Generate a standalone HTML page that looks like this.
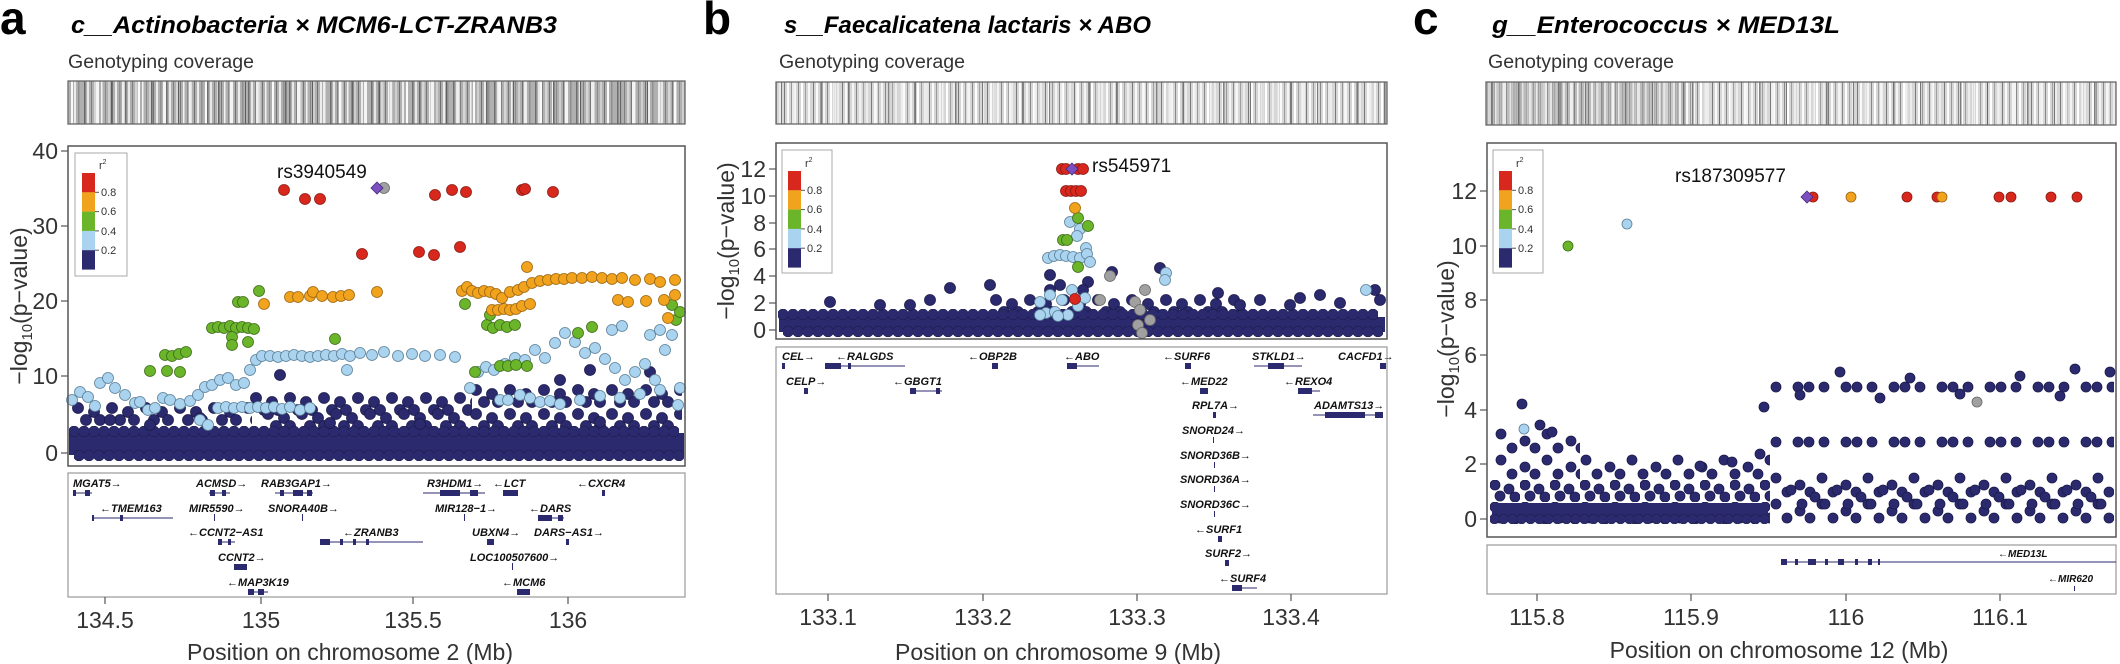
<!DOCTYPE html>
<html><head><meta charset="utf-8"><style>html,body{margin:0;padding:0;background:#fff}svg{display:block}</style></head>
<body>
<svg xmlns="http://www.w3.org/2000/svg" width="2120" height="664" viewBox="0 0 2120 664" font-family="Liberation Sans, Arial, sans-serif">
<defs>
<pattern id="cv1" patternUnits="userSpaceOnUse" x="0" y="0" width="41" height="50">
<rect width="41" height="50" fill="#b0b0b0"/>
<rect x="2" width="1.5" height="50" fill="#6e6e6e"/><rect x="5" width="2" height="50" fill="#e8e8e8"/><rect x="9" width="1" height="50" fill="#808080"/><rect x="12" width="2.5" height="50" fill="#d6d6d6"/><rect x="16" width="1" height="50" fill="#777"/><rect x="19" width="1.5" height="50" fill="#f2f2f2"/><rect x="23" width="1" height="50" fill="#8a8a8a"/><rect x="26" width="2" height="50" fill="#cfcfcf"/><rect x="30" width="1" height="50" fill="#707070"/><rect x="33" width="2" height="50" fill="#ececec"/><rect x="37" width="1.5" height="50" fill="#909090"/>
</pattern>
<pattern id="cv2" patternUnits="userSpaceOnUse" x="0" y="0" width="67" height="50">
<rect x="4" width="2" height="50" fill="#fafafa"/><rect x="17" width="1.5" height="50" fill="#666"/><rect x="29" width="3" height="50" fill="#f4f4f4"/><rect x="44" width="1" height="50" fill="#5e5e5e"/><rect x="55" width="2.5" height="50" fill="#eeeeee"/>
</pattern>
<pattern id="cvL" patternUnits="userSpaceOnUse" x="0" y="0" width="29" height="50">
<rect width="29" height="50" fill="#d6d6d6"/>
<rect x="1" width="1" height="50" fill="#7a7a7a"/><rect x="4" width="2" height="50" fill="#fafafa"/><rect x="8" width="1" height="50" fill="#999"/><rect x="11" width="2" height="50" fill="#f4f4f4"/><rect x="15" width="1" height="50" fill="#888"/><rect x="18" width="2" height="50" fill="#fff"/><rect x="22" width="1" height="50" fill="#a0a0a0"/><rect x="25" width="2" height="50" fill="#ececec"/>
</pattern>
<pattern id="row" patternUnits="userSpaceOnUse" width="10" height="11">
<circle cx="5" cy="5.5" r="5.4" fill="#2b2a6e" stroke="#1b1a4a" stroke-width="0.6"/>
</pattern>
<pattern id="row5" patternUnits="userSpaceOnUse" width="9" height="10">
<circle cx="4.5" cy="5" r="4.9" fill="#2b2a6e" stroke="#1b1a4a" stroke-width="0.6"/>
</pattern>
<pattern id="ps" patternUnits="userSpaceOnUse" width="34" height="24">
<circle cx="6" cy="6" r="5.5" fill="#2b2a6e" stroke="#1b1a4a" stroke-width="0.8"/>
<circle cx="22" cy="10" r="5.5" fill="#2b2a6e" stroke="#1b1a4a" stroke-width="0.8"/>
<circle cx="14" cy="18" r="5.5" fill="#2b2a6e" stroke="#1b1a4a" stroke-width="0.8"/>
<circle cx="28" cy="18" r="5.5" fill="#2b2a6e" stroke="#1b1a4a" stroke-width="0.8"/>
</pattern>
<pattern id="pc" patternUnits="userSpaceOnUse" width="30" height="22">
<circle cx="5" cy="5" r="5" fill="#2b2a6e" stroke="#1b1a4a" stroke-width="0.8"/>
<circle cx="19" cy="9" r="5" fill="#2b2a6e" stroke="#1b1a4a" stroke-width="0.8"/>
<circle cx="10" cy="16" r="5" fill="#2b2a6e" stroke="#1b1a4a" stroke-width="0.8"/>
<circle cx="25" cy="17" r="5" fill="#2b2a6e" stroke="#1b1a4a" stroke-width="0.8"/>
</pattern>
<pattern id="pcs" patternUnits="userSpaceOnUse" width="46" height="26">
<circle cx="6" cy="6" r="5" fill="#2b2a6e" stroke="#1b1a4a" stroke-width="0.8"/>
<circle cx="30" cy="13" r="5" fill="#2b2a6e" stroke="#1b1a4a" stroke-width="0.8"/>
<circle cx="17" cy="20" r="5" fill="#2b2a6e" stroke="#1b1a4a" stroke-width="0.8"/>
<circle cx="40" cy="20" r="5" fill="#2b2a6e" stroke="#1b1a4a" stroke-width="0.8"/>
</pattern>
<pattern id="pr" patternUnits="userSpaceOnUse" width="48" height="12">
<circle cx="6" cy="6" r="5" fill="#2b2a6e" stroke="#1b1a4a" stroke-width="0.8"/>
<circle cx="28" cy="6" r="5" fill="#2b2a6e" stroke="#1b1a4a" stroke-width="0.8"/>
<circle cx="39" cy="6" r="5" fill="#2b2a6e" stroke="#1b1a4a" stroke-width="0.8"/>
</pattern>
</defs>
<rect width="2120" height="664" fill="#fff"/>
<text x="0" y="34" font-size="46" font-weight="bold">a</text>
<text x="703" y="34" font-size="46" font-weight="bold">b</text>
<text x="1413" y="34" font-size="46" font-weight="bold">c</text>
<text x="71" y="33" font-size="24" font-weight="bold" font-style="italic" textLength="486" lengthAdjust="spacingAndGlyphs">c__Actinobacteria × MCM6-LCT-ZRANB3</text>
<text x="784" y="33" font-size="24" font-weight="bold" font-style="italic" textLength="367" lengthAdjust="spacingAndGlyphs">s__Faecalicatena lactaris × ABO</text>
<text x="1492" y="33" font-size="24" font-weight="bold" font-style="italic" textLength="348" lengthAdjust="spacingAndGlyphs">g__Enterococcus × MED13L</text>
<g font-size="19" fill="#333">
<text x="68" y="68" textLength="186" lengthAdjust="spacingAndGlyphs">Genotyping coverage</text>
<text x="779" y="68" textLength="186" lengthAdjust="spacingAndGlyphs">Genotyping coverage</text>
<text x="1488" y="68" textLength="186" lengthAdjust="spacingAndGlyphs">Genotyping coverage</text>
</g>
<!-- coverage -->
<rect x="68" y="81" width="617" height="43" fill="url(#cv1)"/>
<rect x="68" y="81" width="617" height="43" fill="url(#cv2)"/>
<rect x="776" y="82" width="611" height="42" fill="url(#cvL)"/>
<rect x="776" y="82" width="611" height="42" fill="url(#cv2)" opacity="0.8"/>
<rect x="1486" y="82" width="630" height="43" fill="url(#cvL)"/>
<rect x="1486" y="82" width="200" height="43" fill="url(#cv1)" opacity="0.7"/>
<rect x="1486" y="82" width="630" height="43" fill="url(#cv2)" opacity="0.8"/>
<g fill="none" stroke="#666" stroke-width="1.3">
<rect x="68" y="81" width="617" height="43"/><rect x="776" y="82" width="611" height="42"/><rect x="1486" y="82" width="630" height="43"/>
</g>

<!-- PANEL A dots -->
<rect transform="translate(72,402)" width="180" height="24" fill="url(#ps)"/>
<rect transform="translate(250,392)" width="222" height="24" fill="url(#ps)"/>
<rect transform="translate(262,408)" width="204" height="24" fill="url(#ps)"/>
<rect transform="translate(470,384)" width="212" height="48" fill="url(#ps)"/>
<rect x="69" y="433" width="615" height="22" fill="#2b2a6e"/>
<rect transform="translate(69,426)" width="610" height="11" fill="url(#row)"/>
<rect transform="translate(74,450)" width="610" height="11" fill="url(#row)"/>
<g fill="#2b2a6e" stroke="#1b1a4a" stroke-width="0.8">
<circle cx="110" cy="420" r="5.5"/><circle cx="150" cy="425" r="5.5"/><circle cx="200" cy="418" r="5.5"/><circle cx="330" cy="423" r="5.5"/><circle cx="420" cy="424" r="5.5"/><circle cx="600" cy="422" r="5.5"/><circle cx="280" cy="375" r="5.5"/><circle cx="560" cy="380" r="5.5"/><circle cx="590" cy="370" r="5.5"/><circle cx="650" cy="372" r="5.5"/>
</g>
<g stroke="#5a7f97" stroke-width="0.8" fill="#a9d3ee">
<circle cx="72" cy="400" r="5.5"/><circle cx="80" cy="392" r="5.5"/><circle cx="88" cy="397" r="5.5"/><circle cx="95" cy="406" r="5.5"/><circle cx="100" cy="383" r="5.5"/><circle cx="108" cy="378" r="5.5"/><circle cx="115" cy="388" r="5.5"/><circle cx="125" cy="395" r="5.5"/><circle cx="135" cy="403" r="5.5"/><circle cx="140" cy="402" r="5.5"/><circle cx="148" cy="410" r="5.5"/><circle cx="155" cy="408" r="5.5"/><circle cx="163" cy="398" r="5.5"/><circle cx="170" cy="400" r="5.5"/><circle cx="180" cy="404" r="5.5"/><circle cx="190" cy="401" r="5.5"/><circle cx="198" cy="395" r="5.5"/><circle cx="205" cy="387" r="5.5"/><circle cx="212" cy="385" r="5.5"/><circle cx="220" cy="380" r="5.5"/><circle cx="228" cy="378" r="5.5"/><circle cx="236" cy="385" r="5.5"/><circle cx="244" cy="383" r="5.5"/><circle cx="250" cy="370" r="5.5"/><circle cx="256" cy="360" r="5.5"/>
<circle cx="262" cy="356" r="5.5"/><circle cx="270" cy="356" r="5.5"/><circle cx="278" cy="357" r="5.5"/><circle cx="286" cy="356" r="5.5"/><circle cx="294" cy="355" r="5.5"/><circle cx="302" cy="356" r="5.5"/><circle cx="310" cy="357" r="5.5"/><circle cx="318" cy="356" r="5.5"/><circle cx="326" cy="355" r="5.5"/><circle cx="334" cy="356" r="5.5"/><circle cx="342" cy="354" r="5.5"/><circle cx="350" cy="356" r="5.5"/><circle cx="360" cy="353" r="5.5"/><circle cx="372" cy="355" r="5.5"/><circle cx="384" cy="352" r="5.5"/><circle cx="398" cy="356" r="5.5"/><circle cx="412" cy="354" r="5.5"/><circle cx="425" cy="356" r="5.5"/><circle cx="440" cy="355" r="5.5"/><circle cx="455" cy="357" r="5.5"/><circle cx="347" cy="370" r="5.5"/>
<circle cx="218" cy="408" r="5.5"/><circle cx="226" cy="407" r="5.5"/><circle cx="234" cy="408" r="5.5"/><circle cx="242" cy="407" r="5.5"/><circle cx="250" cy="408" r="5.5"/><circle cx="258" cy="407" r="5.5"/><circle cx="266" cy="408" r="5.5"/><circle cx="274" cy="407" r="5.5"/><circle cx="282" cy="409" r="5.5"/><circle cx="290" cy="407" r="5.5"/><circle cx="300" cy="410" r="5.5"/><circle cx="310" cy="408" r="5.5"/><circle cx="200" cy="420" r="5.5"/><circle cx="208" cy="425" r="5.5"/>
<circle cx="470" cy="388" r="5.5"/><circle cx="478" cy="372" r="5.5"/><circle cx="486" cy="367" r="5.5"/><circle cx="494" cy="370" r="5.5"/><circle cx="505" cy="364" r="5.5"/><circle cx="515" cy="358" r="5.5"/><circle cx="525" cy="360" r="5.5"/><circle cx="535" cy="350" r="5.5"/><circle cx="545" cy="358" r="5.5"/><circle cx="555" cy="343" r="5.5"/><circle cx="565" cy="333" r="5.5"/><circle cx="575" cy="342" r="5.5"/><circle cx="585" cy="353" r="5.5"/><circle cx="595" cy="348" r="5.5"/><circle cx="605" cy="359" r="5.5"/><circle cx="615" cy="368" r="5.5"/><circle cx="625" cy="380" r="5.5"/><circle cx="635" cy="372" r="5.5"/><circle cx="645" cy="364" r="5.5"/><circle cx="655" cy="380" r="5.5"/><circle cx="665" cy="350" r="5.5"/><circle cx="672" cy="335" r="5.5"/><circle cx="680" cy="388" r="5.5"/><circle cx="500" cy="400" r="5.5"/><circle cx="508" cy="400" r="5.5"/><circle cx="520" cy="395" r="5.5"/><circle cx="530" cy="398" r="5.5"/><circle cx="540" cy="402" r="5.5"/><circle cx="550" cy="401" r="5.5"/><circle cx="560" cy="404" r="5.5"/><circle cx="580" cy="400" r="5.5"/><circle cx="600" cy="396" r="5.5"/><circle cx="620" cy="398" r="5.5"/><circle cx="640" cy="394" r="5.5"/><circle cx="660" cy="390" r="5.5"/><circle cx="678" cy="405" r="5.5"/><circle cx="612" cy="330" r="5.5"/><circle cx="622" cy="326" r="5.5"/><circle cx="650" cy="335" r="5.5"/><circle cx="660" cy="330" r="5.5"/>
</g>
<g stroke="#3c6b17" stroke-width="0.8" fill="#6bb52b">
<circle cx="150" cy="371" r="5.5"/><circle cx="165" cy="355" r="5.5"/><circle cx="172" cy="356" r="5.5"/><circle cx="179" cy="354" r="5.5"/><circle cx="186" cy="352" r="5.5"/><circle cx="167" cy="371" r="5.5"/><circle cx="180" cy="372" r="5.5"/>
<circle cx="212" cy="328" r="5.5"/><circle cx="218" cy="327" r="5.5"/><circle cx="224" cy="328" r="5.5"/><circle cx="230" cy="326" r="5.5"/><circle cx="236" cy="328" r="5.5"/><circle cx="242" cy="327" r="5.5"/><circle cx="248" cy="328" r="5.5"/><circle cx="254" cy="329" r="5.5"/><circle cx="232" cy="337" r="5.5"/><circle cx="232" cy="345" r="5.5"/><circle cx="248" cy="342" r="5.5"/>
<circle cx="238" cy="302" r="5.5"/><circle cx="243" cy="302" r="5.5"/><circle cx="259" cy="291" r="5.5"/><circle cx="335" cy="339" r="5.5"/><circle cx="475" cy="372" r="5.5"/>
<circle cx="487" cy="325" r="5.5"/><circle cx="493" cy="328" r="5.5"/><circle cx="500" cy="325" r="5.5"/><circle cx="507" cy="327" r="5.5"/><circle cx="515" cy="325" r="5.5"/><circle cx="490" cy="315" r="5.5"/><circle cx="500" cy="366" r="5.5"/><circle cx="508" cy="366" r="5.5"/><circle cx="516" cy="365" r="5.5"/><circle cx="527" cy="366" r="5.5"/><circle cx="465" cy="304" r="5.5"/>
<circle cx="578" cy="333" r="5.5"/><circle cx="592" cy="327" r="5.5"/><circle cx="672" cy="305" r="5.5"/><circle cx="676" cy="320" r="5.5"/><circle cx="680" cy="312" r="5.5"/>
</g>
<g stroke="#9a6510" stroke-width="0.8" fill="#f2a31d">
<circle cx="290" cy="297" r="5.5"/><circle cx="298" cy="297" r="5.5"/><circle cx="310" cy="296" r="5.5"/><circle cx="313" cy="292" r="5.5"/><circle cx="322" cy="296" r="5.5"/><circle cx="333" cy="297" r="5.5"/><circle cx="341" cy="296" r="5.5"/><circle cx="349" cy="295" r="5.5"/><circle cx="377" cy="292" r="5.5"/><circle cx="264" cy="304" r="5.5"/>
<circle cx="462" cy="291" r="5.5"/><circle cx="467" cy="287" r="5.5"/><circle cx="472" cy="291" r="5.5"/><circle cx="478" cy="293" r="5.5"/><circle cx="484" cy="291" r="5.5"/><circle cx="490" cy="292" r="5.5"/><circle cx="496" cy="294" r="5.5"/><circle cx="502" cy="298" r="5.5"/>
<circle cx="492" cy="310" r="5.5"/><circle cx="498" cy="310" r="5.5"/><circle cx="504" cy="309" r="5.5"/><circle cx="510" cy="310" r="5.5"/><circle cx="516" cy="309" r="5.5"/><circle cx="522" cy="306" r="5.5"/><circle cx="530" cy="304" r="5.5"/>
<circle cx="510" cy="292" r="5.5"/><circle cx="518" cy="290" r="5.5"/><circle cx="524" cy="287" r="5.5"/><circle cx="532" cy="283" r="5.5"/><circle cx="540" cy="281" r="5.5"/><circle cx="548" cy="280" r="5.5"/><circle cx="556" cy="279" r="5.5"/><circle cx="564" cy="279" r="5.5"/><circle cx="572" cy="278" r="5.5"/><circle cx="582" cy="278" r="5.5"/><circle cx="592" cy="277" r="5.5"/><circle cx="602" cy="278" r="5.5"/><circle cx="612" cy="279" r="5.5"/><circle cx="622" cy="278" r="5.5"/><circle cx="635" cy="280" r="5.5"/><circle cx="650" cy="279" r="5.5"/><circle cx="660" cy="282" r="5.5"/><circle cx="675" cy="280" r="5.5"/>
<circle cx="618" cy="300" r="5.5"/><circle cx="628" cy="302" r="5.5"/><circle cx="646" cy="301" r="5.5"/><circle cx="664" cy="300" r="5.5"/><circle cx="675" cy="295" r="5.5"/><circle cx="527" cy="267" r="5.5"/><circle cx="668" cy="318" r="5.5"/>
</g>
<g stroke="#8a1a12" stroke-width="0.8" fill="#d8281e">
<circle cx="284" cy="190" r="5.5"/><circle cx="305" cy="199" r="5.5"/><circle cx="320" cy="199" r="5.5"/><circle cx="362" cy="254" r="5.5"/><circle cx="419" cy="252" r="5.5"/><circle cx="434" cy="255" r="5.5"/><circle cx="435" cy="195" r="5.5"/><circle cx="452" cy="190" r="5.5"/><circle cx="466" cy="192" r="5.5"/><circle cx="460" cy="247" r="5.5"/><circle cx="522" cy="190" r="5.5"/><circle cx="525" cy="189" r="5.5"/><circle cx="553" cy="192" r="5.5"/>
</g>
<circle cx="384" cy="188" r="5.5" fill="#a0a0a0" stroke="#666" stroke-width="0.8"/>
<path d="M377 182 L383 188 L377 194 L371 188 Z" fill="#7b4fc0" stroke="#4a2b80" stroke-width="0.8"/>

<!-- PANEL B dots -->
<rect transform="translate(990,294)" width="255" height="24" fill="url(#ps)"/>
<rect x="779" y="317" width="606" height="15" fill="#2b2a6e"/>
<rect transform="translate(778,309)" width="600" height="11" fill="url(#row)"/>
<rect transform="translate(783,326)" width="600" height="11" fill="url(#row)"/>
<g fill="#2b2a6e" stroke="#1b1a4a" stroke-width="0.8">
<circle cx="830" cy="302" r="5.5"/><circle cx="950" cy="288" r="5.5"/><circle cx="990" cy="285" r="5.5"/><circle cx="1050" cy="275" r="5.5"/><circle cx="1088" cy="282" r="5.5"/><circle cx="1060" cy="285" r="5.5"/><circle cx="1083" cy="290" r="5.5"/><circle cx="1050" cy="290" r="5.5"/><circle cx="1112" cy="272" r="5.5"/><circle cx="1160" cy="268" r="5.5"/><circle cx="1218" cy="293" r="5.5"/><circle cx="1260" cy="300" r="5.5"/><circle cx="1300" cy="298" r="5.5"/><circle cx="1320" cy="295" r="5.5"/><circle cx="1380" cy="300" r="5.5"/><circle cx="1375" cy="290" r="5.5"/><circle cx="1240" cy="305" r="5.5"/><circle cx="930" cy="300" r="5.5"/><circle cx="910" cy="305" r="5.5"/><circle cx="880" cy="305" r="5.5"/><circle cx="1340" cy="303" r="5.5"/><circle cx="1290" cy="305" r="5.5"/>
</g>
<g stroke="#666" stroke-width="0.8" fill="#a0a0a0">
<circle cx="1110" cy="276" r="5.5"/><circle cx="1135" cy="302" r="5.5"/><circle cx="1140" cy="310" r="5.5"/><circle cx="1145" cy="290" r="5.5"/><circle cx="1150" cy="320" r="5.5"/><circle cx="1138" cy="325" r="5.5"/><circle cx="1142" cy="333" r="5.5"/><circle cx="1100" cy="300" r="5.5"/>
</g>
<g stroke="#5a7f97" stroke-width="0.8" fill="#a9d3ee">
<circle cx="1070" cy="222" r="5.5"/><circle cx="1080" cy="229" r="5.5"/><circle cx="1077" cy="236" r="5.5"/><circle cx="1086" cy="248" r="5.5"/><circle cx="1048" cy="258" r="5.5"/><circle cx="1054" cy="256" r="5.5"/><circle cx="1060" cy="255" r="5.5"/><circle cx="1066" cy="256" r="5.5"/><circle cx="1073" cy="257" r="5.5"/><circle cx="1080" cy="258" r="5.5"/><circle cx="1087" cy="254" r="5.5"/><circle cx="1090" cy="262" r="5.5"/><circle cx="1166" cy="273" r="5.5"/><circle cx="1165" cy="280" r="5.5"/><circle cx="1366" cy="290" r="5.5"/>
<circle cx="1040" cy="302" r="5.5"/><circle cx="1046" cy="313" r="5.5"/><circle cx="1055" cy="312" r="5.5"/><circle cx="1062" cy="300" r="5.5"/><circle cx="1068" cy="315" r="5.5"/><circle cx="1078" cy="306" r="5.5"/><circle cx="1085" cy="298" r="5.5"/><circle cx="1040" cy="315" r="5.5"/><circle cx="1050" cy="295" r="5.5"/><circle cx="1058" cy="316" r="5.5"/><circle cx="1072" cy="290" r="5.5"/>
</g>
<g stroke="#3c6b17" stroke-width="0.8" fill="#6bb52b">
<circle cx="1078" cy="218" r="5.5"/><circle cx="1088" cy="226" r="5.5"/><circle cx="1063" cy="240" r="5.5"/><circle cx="1067" cy="240" r="5.5"/><circle cx="1078" cy="267" r="5.5"/>
</g>
<circle cx="1075" cy="208" r="5.5" fill="#f2a31d" stroke="#9a6510" stroke-width="0.8"/>
<g stroke="#8a1a12" stroke-width="0.8" fill="#d8281e">
<circle cx="1062" cy="169" r="5.5"/><circle cx="1066" cy="169" r="5.5"/><circle cx="1078" cy="169" r="5.5"/><circle cx="1083" cy="169" r="5.5"/>
<circle cx="1066" cy="191" r="5.5"/><circle cx="1071" cy="191" r="5.5"/><circle cx="1076" cy="191" r="5.5"/><circle cx="1081" cy="191" r="5.5"/><circle cx="1075" cy="299" r="5.5"/>
</g>
<path d="M1072 163 L1078 169 L1072 175 L1066 169 Z" fill="#7b4fc0" stroke="#4a2b80" stroke-width="0.8"/>

<!-- PANEL C dots -->
<rect transform="translate(1490,480)" width="280" height="44" fill="url(#pc)"/>
<rect x="1492" y="503" width="276" height="16" fill="#2b2a6e"/>
<rect transform="translate(1490,514)" width="279" height="10" fill="url(#row5)"/>
<rect transform="translate(1495,428)" width="85" height="52" fill="url(#pcs)"/>
<rect transform="translate(1580,454)" width="190" height="26" fill="url(#pcs)"/>
<rect transform="translate(1770,472)" width="344" height="52" fill="url(#pcs)"/>
<rect transform="translate(1785,484)" width="322" height="26" fill="url(#pcs)"/>
<rect transform="translate(1770,436)" width="344" height="12" fill="url(#pr)"/>
<rect transform="translate(1770,381)" width="344" height="12" fill="url(#pr)"/>
<g fill="#2b2a6e" stroke="#1b1a4a" stroke-width="0.8">
<circle cx="1764" cy="407" r="5"/><circle cx="1522" cy="404" r="5"/><circle cx="2075" cy="369" r="5"/><circle cx="2110" cy="372" r="5"/><circle cx="1840" cy="372" r="5"/><circle cx="1910" cy="378" r="5"/><circle cx="2020" cy="376" r="5"/><circle cx="1760" cy="454" r="5"/><circle cx="1732" cy="462" r="5"/><circle cx="1700" cy="466" r="5"/><circle cx="1540" cy="425" r="5"/><circle cx="1552" cy="432" r="5"/><circle cx="1800" cy="395" r="5"/><circle cx="1880" cy="398" r="5"/><circle cx="1960" cy="394" r="5"/><circle cx="2060" cy="396" r="5"/>
</g>
<circle cx="1524" cy="429" r="5" fill="#a9d3ee" stroke="#5a7f97" stroke-width="0.8"/>
<circle cx="1627" cy="224" r="5" fill="#a9d3ee" stroke="#5a7f97" stroke-width="0.8"/>
<circle cx="1568" cy="246" r="5" fill="#6bb52b" stroke="#3c6b17" stroke-width="0.8"/>
<circle cx="1977" cy="402" r="5" fill="#a0a0a0" stroke="#666" stroke-width="0.8"/>
<g stroke="#8a1a12" stroke-width="0.8" fill="#d8281e">
<circle cx="1813" cy="197" r="5"/><circle cx="1907" cy="197" r="5"/><circle cx="1937" cy="197" r="5"/><circle cx="1999" cy="197" r="5"/><circle cx="2011" cy="197" r="5"/><circle cx="2051" cy="197" r="5"/><circle cx="2077" cy="197" r="5"/>
</g>
<g stroke="#9a6510" stroke-width="0.8" fill="#f2a31d"><circle cx="1851" cy="197" r="5"/><circle cx="1942" cy="197" r="5"/></g>
<path d="M1807 191 L1813 197 L1807 203 L1801 197 Z" fill="#7b4fc0" stroke="#4a2b80" stroke-width="0.8"/>

<!-- frames -->
<g fill="none" stroke="#555" stroke-width="1.5">
<rect x="68" y="146" width="617" height="320"/>
<rect x="776" y="143" width="611" height="196"/>
<rect x="1487" y="143" width="629" height="394"/>
</g>
<g fill="none" stroke="#999" stroke-width="1.2">
<rect x="68" y="473" width="617" height="124"/>
<rect x="776" y="347" width="611" height="247"/>
<rect x="1487" y="545" width="629" height="49"/>
</g>
<!-- legends -->
<g>
<rect x="75" y="153" width="52" height="123" fill="#fff" stroke="#aaa"/>
<rect x="82" y="173" width="13" height="19.4" fill="#d8281e"/><rect x="82" y="192.3" width="13" height="19.4" fill="#f2a31d"/><rect x="82" y="211.6" width="13" height="19.4" fill="#6bb52b"/><rect x="82" y="230.9" width="13" height="19.4" fill="#a9d3ee"/><rect x="82" y="250.2" width="13" height="19.4" fill="#2b2a6e"/>
<rect x="782" y="150" width="50" height="123" fill="#fff" stroke="#aaa"/>
<rect x="788" y="171" width="13" height="19.4" fill="#d8281e"/><rect x="788" y="190.3" width="13" height="19.4" fill="#f2a31d"/><rect x="788" y="209.6" width="13" height="19.4" fill="#6bb52b"/><rect x="788" y="228.9" width="13" height="19.4" fill="#a9d3ee"/><rect x="788" y="248.2" width="13" height="19.4" fill="#2b2a6e"/>
<rect x="1493" y="150" width="50" height="123" fill="#fff" stroke="#aaa"/>
<rect x="1499" y="171" width="13" height="19.4" fill="#d8281e"/><rect x="1499" y="190.3" width="13" height="19.4" fill="#f2a31d"/><rect x="1499" y="209.6" width="13" height="19.4" fill="#6bb52b"/><rect x="1499" y="228.9" width="13" height="19.4" fill="#a9d3ee"/><rect x="1499" y="248.2" width="13" height="19.4" fill="#2b2a6e"/>
<g stroke="#555">
<line x1="95" x2="99" y1="192.3" y2="192.3"/><line x1="95" x2="99" y1="211.6" y2="211.6"/><line x1="95" x2="99" y1="230.9" y2="230.9"/><line x1="95" x2="99" y1="250.2" y2="250.2"/>
<line x1="801" x2="805" y1="190.3" y2="190.3"/><line x1="801" x2="805" y1="209.6" y2="209.6"/><line x1="801" x2="805" y1="228.9" y2="228.9"/><line x1="801" x2="805" y1="248.2" y2="248.2"/>
<line x1="1512" x2="1516" y1="190.3" y2="190.3"/><line x1="1512" x2="1516" y1="209.6" y2="209.6"/><line x1="1512" x2="1516" y1="228.9" y2="228.9"/><line x1="1512" x2="1516" y1="248.2" y2="248.2"/>
</g>
<g font-size="11" fill="#333">
<text x="101" y="196">0.8</text><text x="101" y="215">0.6</text><text x="101" y="235">0.4</text><text x="101" y="254">0.2</text><text x="99" y="169">r<tspan dy="-5" font-size="7">2</tspan></text>
<text x="807" y="194">0.8</text><text x="807" y="213">0.6</text><text x="807" y="233">0.4</text><text x="807" y="252">0.2</text><text x="805" y="167">r<tspan dy="-5" font-size="7">2</tspan></text>
<text x="1518" y="194">0.8</text><text x="1518" y="213">0.6</text><text x="1518" y="233">0.4</text><text x="1518" y="252">0.2</text><text x="1516" y="167">r<tspan dy="-5" font-size="7">2</tspan></text>
</g>
</g>
<!-- ticks -->
<g stroke="#555" stroke-width="1.2">
<line x1="61" x2="68" y1="151" y2="151"/><line x1="61" x2="68" y1="226" y2="226"/><line x1="61" x2="68" y1="301" y2="301"/><line x1="61" x2="68" y1="376" y2="376"/><line x1="61" x2="68" y1="453" y2="453"/>
<line x1="769" x2="776" y1="169" y2="169"/><line x1="769" x2="776" y1="196" y2="196"/><line x1="769" x2="776" y1="223" y2="223"/><line x1="769" x2="776" y1="249" y2="249"/><line x1="769" x2="776" y1="276" y2="276"/><line x1="769" x2="776" y1="303" y2="303"/><line x1="769" x2="776" y1="330" y2="330"/>
<line x1="1480" x2="1487" y1="191" y2="191"/><line x1="1480" x2="1487" y1="246" y2="246"/><line x1="1480" x2="1487" y1="300" y2="300"/><line x1="1480" x2="1487" y1="355" y2="355"/><line x1="1480" x2="1487" y1="410" y2="410"/><line x1="1480" x2="1487" y1="464" y2="464"/><line x1="1480" x2="1487" y1="519" y2="519"/>
<line x1="105" x2="105" y1="597" y2="604"/><line x1="261" x2="261" y1="597" y2="604"/><line x1="413" x2="413" y1="597" y2="604"/><line x1="568" x2="568" y1="597" y2="604"/>
<line x1="828" x2="828" y1="594" y2="601"/><line x1="983" x2="983" y1="594" y2="601"/><line x1="1137" x2="1137" y1="594" y2="601"/><line x1="1291" x2="1291" y1="594" y2="601"/>
<line x1="1537" x2="1537" y1="594" y2="601"/><line x1="1691" x2="1691" y1="594" y2="601"/><line x1="1846" x2="1846" y1="594" y2="601"/><line x1="2000" x2="2000" y1="594" y2="601"/>
</g>
<g font-size="23" fill="#333" text-anchor="end">
<text x="58" y="159">40</text><text x="58" y="234">30</text><text x="58" y="309">20</text><text x="58" y="384">10</text><text x="58" y="461">0</text>
<text x="766" y="177">12</text><text x="766" y="204">10</text><text x="766" y="231">8</text><text x="766" y="257">6</text><text x="766" y="284">4</text><text x="766" y="311">2</text><text x="766" y="338">0</text>
<text x="1477" y="199">12</text><text x="1477" y="254">10</text><text x="1477" y="308">8</text><text x="1477" y="363">6</text><text x="1477" y="418">4</text><text x="1477" y="472">2</text><text x="1477" y="527">0</text>
</g>
<g font-size="23" fill="#333" text-anchor="middle">
<text x="105" y="628">134.5</text><text x="261" y="628">135</text><text x="413" y="628">135.5</text><text x="568" y="628">136</text>
<text x="828" y="625">133.1</text><text x="983" y="625">133.2</text><text x="1137" y="625">133.3</text><text x="1291" y="625">133.4</text>
<text x="1537" y="625">115.8</text><text x="1691" y="625">115.9</text><text x="1846" y="625">116</text><text x="2000" y="625">116.1</text>
<text x="350" y="660">Position on chromosome 2 (Mb)</text>
<text x="1058" y="660">Position on chromosome 9 (Mb)</text>
<text x="1779" y="658">Position on chromosome 12 (Mb)</text>
<text transform="translate(27,306) rotate(-90)">−log<tspan font-size="15" dy="5">10</tspan><tspan dy="-5">(p−value)</tspan></text>
<text transform="translate(734,241) rotate(-90)">−log<tspan font-size="15" dy="5">10</tspan><tspan dy="-5">(p−value)</tspan></text>
<text transform="translate(1454,339) rotate(-90)">−log<tspan font-size="15" dy="5">10</tspan><tspan dy="-5">(p−value)</tspan></text>
</g>
<g font-size="19" fill="#111">
<text x="277" y="178">rs3940549</text>
<text x="1092" y="172">rs545971</text>
<text x="1675" y="182">rs187309577</text>
</g>
<!-- genes -->
<g font-size="11" font-weight="bold" font-style="italic" fill="#111">
<text x="73" y="487">MGAT5→</text><text x="196" y="487">ACMSD→</text><text x="261" y="487">RAB3GAP1→</text><text x="427" y="487">R3HDM1→</text><text x="493" y="487">←LCT</text><text x="577" y="487">←CXCR4</text>
<text x="100" y="512">←TMEM163</text><text x="189" y="512">MIR5590→</text><text x="268" y="512">SNORA40B→</text><text x="435" y="512">MIR128−1→</text><text x="529" y="512">←DARS</text>
<text x="188" y="536">←CCNT2−AS1</text><text x="343" y="536">←ZRANB3</text><text x="472" y="536">UBXN4→</text><text x="534" y="536">DARS−AS1→</text>
<text x="218" y="561">CCNT2→</text><text x="470" y="561">LOC100507600→</text>
<text x="227" y="586">←MAP3K19</text><text x="502" y="586">←MCM6</text>
<text x="782" y="360">CEL→</text><text x="836" y="360">←RALGDS</text><text x="968" y="360">←OBP2B</text><text x="1064" y="360">←ABO</text><text x="1163" y="360">←SURF6</text><text x="1252" y="360">STKLD1→</text><text x="1338" y="360">CACFD1→</text>
<text x="786" y="385">CELP→</text><text x="893" y="385">←GBGT1</text><text x="1180" y="385">←MED22</text><text x="1284" y="385">←REXO4</text>
<text x="1192" y="409">RPL7A→</text><text x="1314" y="409">ADAMTS13→</text>
<text x="1182" y="434">SNORD24→</text><text x="1180" y="459">SNORD36B→</text><text x="1180" y="483">SNORD36A→</text><text x="1180" y="508">SNORD36C→</text>
<text x="1195" y="533">←SURF1</text><text x="1205" y="557">SURF2→</text><text x="1219" y="582">←SURF4</text>
<text x="1998" y="557" font-size="10">←MED13L</text><text x="2048" y="582" font-size="10">←MIR620</text>
</g>
<g stroke="#2b2a6e" stroke-width="1">
<line x1="73" x2="92" y1="493" y2="493"/><line x1="209" x2="230" y1="493" y2="493"/><line x1="275" x2="313" y1="493" y2="493"/><line x1="423" x2="485" y1="493" y2="493"/><line x1="503" x2="518" y1="493" y2="493"/>
<line x1="92" x2="173" y1="518" y2="518"/><line x1="538" x2="564" y1="518" y2="518"/>
<line x1="218" x2="235" y1="542" y2="542"/><line x1="320" x2="423" y1="542" y2="542"/><line x1="487" x2="494" y1="542" y2="542"/>
<line x1="234" x2="247" y1="567" y2="567"/><line x1="248" x2="268" y1="592" y2="592"/><line x1="517" x2="530" y1="592" y2="592"/>
<line x1="825" x2="905" y1="366" y2="366"/><line x1="1067" x2="1099" y1="366" y2="366"/><line x1="1254" x2="1302" y1="366" y2="366"/><line x1="910" x2="942" y1="391" y2="391"/><line x1="1298" x2="1320" y1="391" y2="391"/><line x1="1313" x2="1383" y1="415" y2="415"/><line x1="1232" x2="1257" y1="588" y2="588"/>
<line x1="1781" x2="2116" y1="562" y2="562"/>
</g>
<g fill="#2b2a6e">
<rect x="73" y="490" width="3" height="6"/><rect x="85" y="490" width="5" height="6"/><rect x="210" y="490" width="5" height="6"/><rect x="222" y="490" width="4" height="6"/><rect x="280" y="490" width="4" height="6"/><rect x="293" y="490" width="10" height="6"/><rect x="307" y="490" width="5" height="6"/><rect x="440" y="490" width="20" height="6"/><rect x="470" y="490" width="8" height="6"/><rect x="503" y="490" width="15" height="6"/><rect x="602" y="490" width="3" height="6"/>
<rect x="92" y="515" width="2" height="6"/><rect x="120" y="515" width="3" height="6"/><rect x="214" y="514" width="1" height="7"/><rect x="302" y="514" width="1" height="7"/><rect x="464" y="514" width="1" height="7"/><rect x="538" y="515" width="14" height="6"/><rect x="558" y="515" width="5" height="6"/>
<rect x="218" y="539" width="4" height="6"/><rect x="228" y="539" width="3" height="6"/><rect x="320" y="539" width="10" height="6"/><rect x="340" y="539" width="3" height="6"/><rect x="353" y="539" width="3" height="6"/><rect x="366" y="539" width="3" height="6"/><rect x="487" y="539" width="7" height="6"/><rect x="566" y="539" width="3" height="6"/>
<rect x="234" y="564" width="13" height="6"/><rect x="512" y="563" width="1" height="7"/><rect x="248" y="589" width="6" height="6"/><rect x="258" y="589" width="6" height="6"/><rect x="517" y="589" width="13" height="6"/>
<rect x="782" y="363" width="3" height="6"/><rect x="825" y="363" width="16" height="6"/><rect x="848" y="363" width="3" height="6"/><rect x="992" y="363" width="6" height="6"/><rect x="1067" y="363" width="10" height="6"/><rect x="1185" y="363" width="6" height="6"/><rect x="1268" y="363" width="16" height="6"/><rect x="1380" y="363" width="6" height="6"/>
<rect x="804" y="388" width="4" height="6"/><rect x="910" y="388" width="6" height="6"/><rect x="936" y="388" width="4" height="6"/><rect x="1200" y="388" width="8" height="6"/><rect x="1298" y="388" width="14" height="6"/>
<rect x="1213" y="412" width="3" height="6"/><rect x="1325" y="412" width="40" height="6"/><rect x="1375" y="412" width="8" height="6"/>
<rect x="1213" y="437" width="1" height="6"/><rect x="1214" y="462" width="1" height="6"/><rect x="1214" y="486" width="1" height="6"/><rect x="1214" y="511" width="1" height="6"/>
<rect x="1218" y="536" width="4" height="6"/><rect x="1225" y="560" width="4" height="6"/><rect x="1232" y="585" width="10" height="6"/>
<rect x="1781" y="559" width="6" height="6"/><rect x="1795" y="559" width="3" height="6"/><rect x="1808" y="559" width="8" height="6"/><rect x="1825" y="559" width="3" height="6"/><rect x="1838" y="559" width="6" height="6"/><rect x="1855" y="559" width="3" height="6"/><rect x="1868" y="559" width="4" height="6"/><rect x="1878" y="559" width="2" height="6"/><rect x="2074" y="586" width="1" height="5"/>
</g>
</svg>
</body></html>
